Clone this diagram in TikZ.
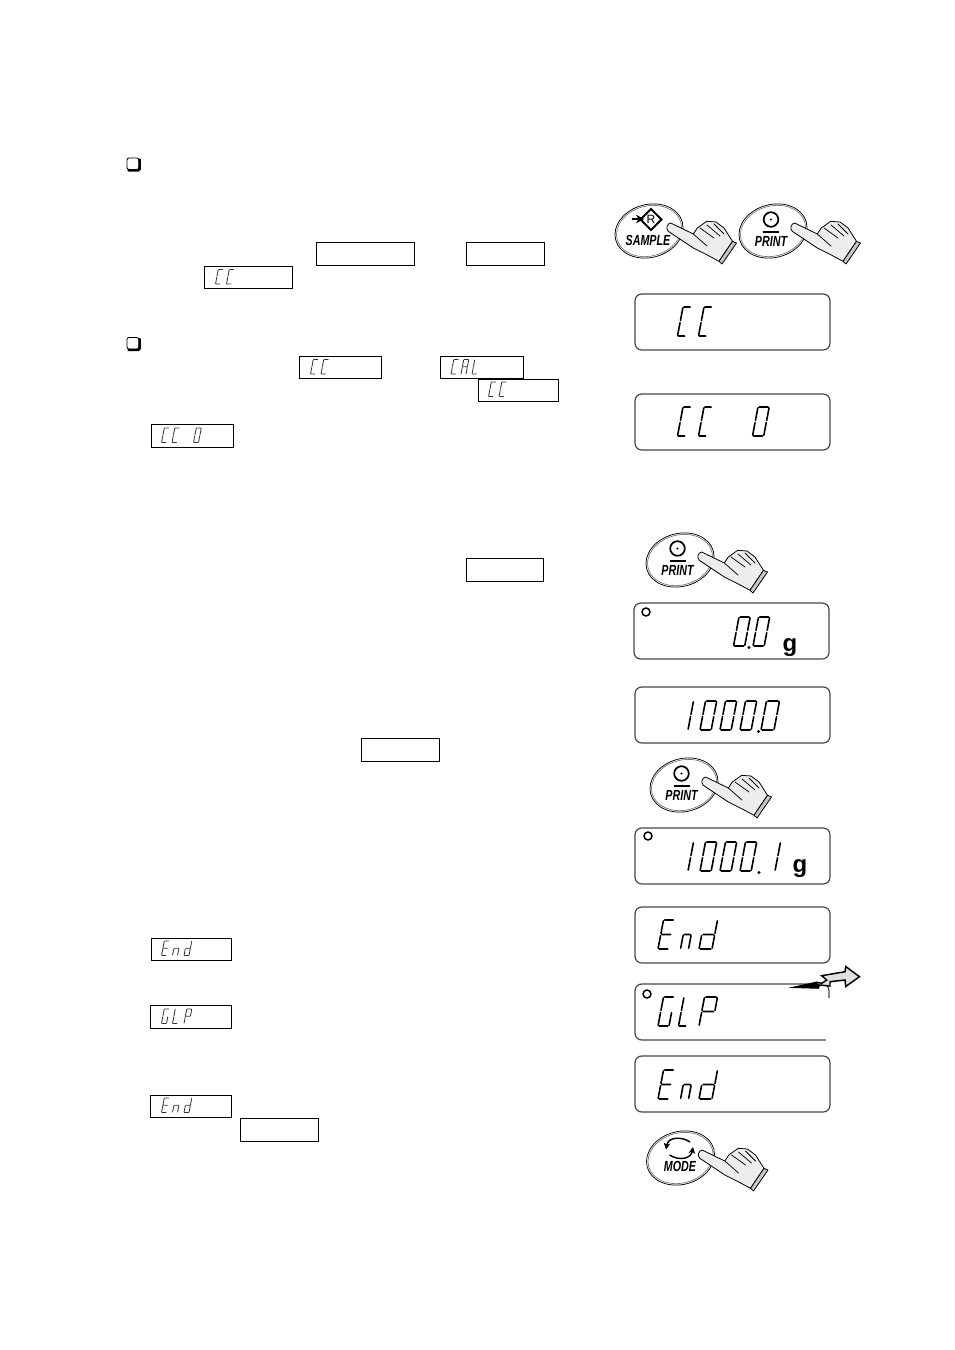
\documentclass[tikz,border=0pt]{standalone}
\usepackage{fontspec}
\setmainfont{Liberation Sans}
\usetikzlibrary{arrows.meta}
% seven-segment strokes in a unit cell (x 0..1, y 0..1 upward)
\newcommand\sgA{(0.1,1)--(0.9,1) }
\newcommand\sgB{(1,0.97)--(1,0.54) }
\newcommand\sgC{(1,0.46)--(1,0.03) }
\newcommand\sgD{(0.1,0)--(0.9,0) }
\newcommand\sgE{(0,0.46)--(0,0.03) }
\newcommand\sgF{(0,0.97)--(0,0.54) }
\newcommand\sgG{(0.1,0.5)--(0.9,0.5) }
\newcommand\glC{\sgA\sgF\sgE\sgD}
\newcommand\glA{\sgA\sgB\sgC\sgE\sgF\sgG}
\newcommand\glL{\sgF\sgE\sgD}
\newcommand\glE{\sgA\sgF\sgG\sgE\sgD}
\newcommand\gln{\sgG\sgE\sgC}
\newcommand\gld{\sgB\sgC\sgD\sgE\sgG}
\newcommand\glG{\sgA\sgF\sgE\sgD\sgC}
\newcommand\glP{\sgA\sgB\sgF\sgG\sgE}
\newcommand\glO{\sgA\sgB\sgC\sgD\sgE\sgF}
\newcommand\glI{\sgB\sgC}
\tikzset{
  x=0.75pt,y=-0.75pt,
  lcd/.style={rounded corners=5pt,draw=black!72,line width=0.9pt},
  valbox/.style={draw=black,line width=0.75pt},
  bigseg/.style={draw=black,line width=1.2pt,line cap=round},
  smallseg/.style={draw=black!80,line width=0.62pt,line cap=round},
  keytext/.style={font=\fontsize{11}{11}\selectfont\bfseries\itshape,inner sep=0pt,xscale=0.73},
  handfill/.style={fill=black!7,draw=black,line width=0.6pt,line join=round},
  unitg/.style={font=\fontsize{18}{18}\selectfont\bfseries,inner sep=0pt,anchor=base},
}
% \bg[width]{x bottom-left}{y top}{glyph}
\newcommand\bg[4][11.2]{\begin{scope}[shift={(#2,#3+29)},x={(#1*0.75pt,0pt)},y={(5.5*0.75pt,29*0.75pt)}]\draw[bigseg] #4;\end{scope}}
\newcommand\sg[3]{\begin{scope}[shift={(#1,#2+14.5)},x={(5*0.75pt,0pt)},y={(2.8*0.75pt,14.5*0.75pt)}]\draw[smallseg] #3;\end{scope}}
% hand and key ring, centred on key
\newcommand\keyhand[2]{%
 \begin{scope}[shift={(#1,#2)}]
  \draw[line width=0.55pt,rotate=15] (0,0) ellipse [x radius=34.5,y radius=26.5];
  \draw[line width=0.5pt,black!55,rotate=15] (0,0) ellipse [x radius=33,y radius=25];
  \draw[handfill]
   (70,30.3) -- (57.7,23.7) -- (44.3,17) -- (19.3,0.3)
   .. controls (16.5,-2.5) and (18,-7.5) .. (21.7,-8)
   -- (44.3,3) -- (48.3,-3) -- (57.7,-9.7) -- (67,-9) -- (75,-3) -- (83.5,10.3) -- cycle;
  \draw[handfill,fill=black!22] (83.5,10.3) -- (87.5,12) -- (73,33) -- (70,30.3) -- cycle;
  \draw[line width=0.55pt,line cap=round] (44.3,3) -- (58,15) (51,-3) -- (65,7) (58,-6) -- (71,5) (65,-7) -- (75,3);
 \end{scope}}
\begin{document}
\begin{tikzpicture}
\useasboundingbox (0,0) rectangle (954,1350);
% check bullets
\foreach \n/\yy in {cba/158,cbb/337.5}{
  \draw[line width=1.6pt,line cap=round,rounded corners=1pt] (128.5,\yy+12.5) -- (139.7,\yy+12.5) -- (139.7,\yy+1.5);
  \draw[line width=0.65pt,rounded corners=1.5pt] (127,\yy) rectangle (138.7,\yy+11.5);
}
% outlined value boxes
\draw[valbox] (316.5,242.5) rectangle (414.5,265.5);
\draw[valbox] (466.5,242.5) rectangle (544.5,265.5);
\draw[valbox] (204.5,266.5) rectangle (292.5,288.5);
\draw[valbox] (299.5,356.5) rectangle (381.5,378.5);
\draw[valbox] (440.5,356.5) rectangle (523.5,378.5);
\draw[valbox] (478.5,379.5) rectangle (558.5,401.5);
\draw[valbox] (151.5,424.5) rectangle (233.5,447.5);
\draw[valbox] (466.5,558.5) rectangle (543.5,581.5);
\draw[valbox] (361.5,738.5) rectangle (439.5,761.5);
\draw[valbox] (151.5,938.5) rectangle (231.5,960.5);
\draw[valbox] (150.5,1005.5) rectangle (231.5,1028.5);
\draw[valbox] (150.5,1095.5) rectangle (231.5,1117.5);
\draw[valbox] (240.5,1118.5) rectangle (318.5,1141.5);
% small segment text (y = top of cell, x = bottom-left)
\sg{215.5}{269.5}{\glC}\sg{226.5}{269.5}{\glC}
\sg{310.5}{359.5}{\glC}\sg{321}{359.5}{\glC}
\sg{451}{359.5}{\glC}\sg{461}{359.5}{\glA}\sg{472}{359.5}{\glL}
\sg{488.5}{382}{\glC}\sg{499}{382}{\glC}
\sg{161.5}{428}{\glC}\sg{172}{428}{\glC}\sg{193.5}{428}{\glO}
\sg{161.5}{941}{\glE}\sg{172.5}{941}{\gln}\sg{184}{941}{\gld}
\sg{161.5}{1009}{\glG}\sg{172.5}{1009}{\glL}\sg{184}{1009}{\glP}
\sg{161.5}{1098}{\glE}\sg{172.5}{1098}{\gln}\sg{184}{1098}{\gld}
% LCD panels
\draw[lcd] (635,294) rectangle (830,350);
\bg[8]{677.5}{307}{\glC}\bg[8]{698.5}{307}{\glC}
\draw[lcd] (635,394) rectangle (830,450);
\bg[8]{677.5}{407}{\glC}\bg[8]{698.5}{407}{\glC}\bg{752.5}{407}{\glO}
\draw[lcd] (634,603) rectangle (829,659);
\draw[line width=1.1pt] (646,612) circle [radius=4];
\bg{733.5}{617}{\glO}\bg{753}{617}{\glO}
\fill (749,647.5) circle [radius=1.6];
\node[unitg] (ga) at (790,651.5) {g};
\draw[lcd] (635,687) rectangle (830,743);
\bg{676.8}{701}{\glI}
\bg{700}{701}{\glO}\bg{720}{701}{\glO}\bg{740}{701}{\glO}\bg[13]{761}{701}{\glO}
\fill (758.5,731.5) circle [radius=1.6];
\draw[lcd] (635,828) rectangle (830,884);
\draw[line width=1.1pt] (648,836) circle [radius=4];
\bg{676.8}{842}{\glI}
\bg{700}{842}{\glO}\bg{720}{842}{\glO}\bg{740}{842}{\glO}\bg{763.8}{842}{\glI}
\fill (759,872.5) circle [radius=1.6];
\node[unitg] (gb) at (800,872) {g};
\draw[lcd] (635,907) rectangle (830,963);
\bg[11]{658}{920}{\glE}\bg[8]{680.5}{920}{\gln}\bg[13]{699}{920}{\gld}
% open panel with GLP
\draw[draw=black!72,line width=0.9pt,rounded corners=5pt] (829,998) -- (829,984) -- (635,984) -- (635,1040) -- (826,1040);
\draw[line width=1.1pt] (647,994) circle [radius=4];
\bg[11]{658}{997}{\glG}\bg[8]{678.5}{997}{\glL}\bg[13]{699}{997}{\glP}
\draw[lcd] (635,1056) rectangle (830,1112);
\bg[11]{658}{1070}{\glE}\bg[8]{680.5}{1070}{\gln}\bg[13]{699}{1070}{\gld}
% lightning arrow
\draw[fill=black!12,line width=1.1pt,line join=miter]
  (845.7,966.5) -- (859.5,976.7) -- (845.7,986.5) -- (845,980) -- (830,981.7) -- (830,986)
  -- (819.3,985) -- (818.3,988) -- (794,987.3) -- (816.7,982.3) -- (821.7,983.3) -- (826.7,980)
  -- (821.7,975.7) -- (845,971.7) -- cycle;
\fill (794,987.3) -- (816.7,982.6) -- (819.3,985) -- (818.3,988.3) -- cycle;
% keys
\keyhand{649}{231}
\keyhand{773}{231}
\keyhand{680}{560}
\keyhand{684}{785}
\keyhand{680.5}{1158}
% SAMPLE key
\draw[line width=1.4pt,line join=miter] (651,209) -- (661.5,219.5) -- (651,230) -- (640.5,219.5) -- cycle;
\node[inner sep=0pt,font=\fontsize{9}{9}\selectfont] (rkey) at (651,219.5) {R};
\draw[line width=1.6pt,-{Stealth[length=6pt,width=6.5pt]}] (631.5,219) -- (644,219);
\node[keytext] (ksample) at (648,240) {SAMPLE};
% PRINT keys
\foreach \kx/\ky/\kn in {771/231/pa,677.5/560/pb,681.5/785/pc}{
  \draw[line width=1.3pt] (\kx,\ky-11.5) circle [radius=7.3];
  \fill (\kx,\ky-11.5) circle [radius=1.1];
  \draw[line width=1.4pt] (\kx-8,\ky+1) -- (\kx+8,\ky+1);
  \node[keytext] (\kn) at (\kx,\ky+10) {PRINT};
}
% MODE key
\draw[line width=1.1pt,-{Stealth[length=5pt,width=5pt]}] (690,1142) .. controls (681,1136) and (668,1137) .. (666,1149.5);
\draw[line width=1.1pt,-{Stealth[length=5pt,width=5pt]}] (669.5,1155) .. controls (679,1161) and (691,1159) .. (693,1147);
\node[keytext] (kmode) at (680,1166.5) {MODE};
\end{tikzpicture}
\end{document}
